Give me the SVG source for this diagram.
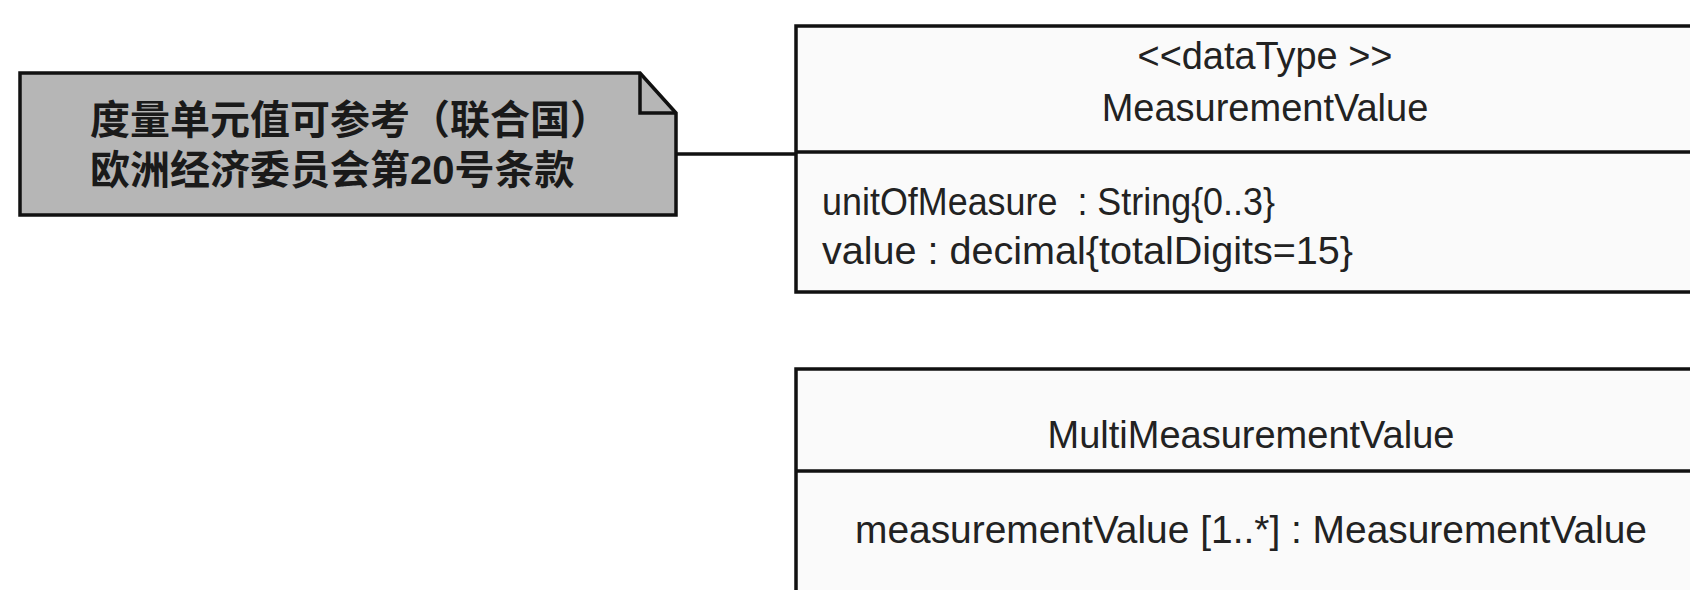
<svg xmlns="http://www.w3.org/2000/svg" width="1690" height="590" viewBox="0 0 1690 590">
<style>
.box{fill:#fafafa;stroke:#111;stroke-width:3.5}
.line{stroke:#111;stroke-width:3.5;fill:none}
.note{fill:#b6b6b6;stroke:#111;stroke-width:3.5;stroke-linejoin:miter}
.t{font-family:"Liberation Sans",Arial,sans-serif;font-size:38px;fill:#222}
.c{text-anchor:middle}
.cjk{font-family:"Liberation Sans","Noto Sans CJK SC",sans-serif;font-size:40px;font-weight:bold;fill:#1a1a1a}
</style>
<rect width="1690" height="590" fill="#fff"/>
<g id="connectors">
<line class="line" x1="676" y1="154" x2="796" y2="154"/>
</g>
<g id="note">
<path class="note" d="M20,73 H640 L676,113 V215 H20 Z"/>
<path class="line" d="M640,73 V113 H676" stroke-width="3"/>
<text class="cjk" x="90" y="134">度量单元值可参考（联合国）</text>
<text class="cjk" x="90" y="184">欧洲经济委员会第20号条款</text>
</g>
<g id="MeasurementValue">
<rect class="box" x="796" y="26" width="940" height="266"/>
<line class="line" x1="796" y1="152" x2="1736" y2="152"/>
<text class="t c" x="1265" y="69" font-size="32" textLength="255" lengthAdjust="spacingAndGlyphs">&lt;&lt;dataType &gt;&gt;</text>
<text class="t c" x="1265" y="121" font-size="39">MeasurementValue</text>
<text class="t" x="822" y="215" xml:space="preserve" textLength="453" lengthAdjust="spacingAndGlyphs">unitOfMeasure  : String{0..3}</text>
<text class="t" x="822" y="264" textLength="531" lengthAdjust="spacingAndGlyphs">value : decimal{totalDigits=15}</text>
</g>
<g id="MultiMeasurementValue">
<rect class="box" x="796" y="369" width="940" height="260"/>
<line class="line" x1="796" y1="471" x2="1736" y2="471"/>
<text class="t c" x="1251" y="448">MultiMeasurementValue</text>
<text class="t c" x="1251" y="543" textLength="792" lengthAdjust="spacingAndGlyphs">measurementValue [1..*] : MeasurementValue</text>
</g>
</svg>
